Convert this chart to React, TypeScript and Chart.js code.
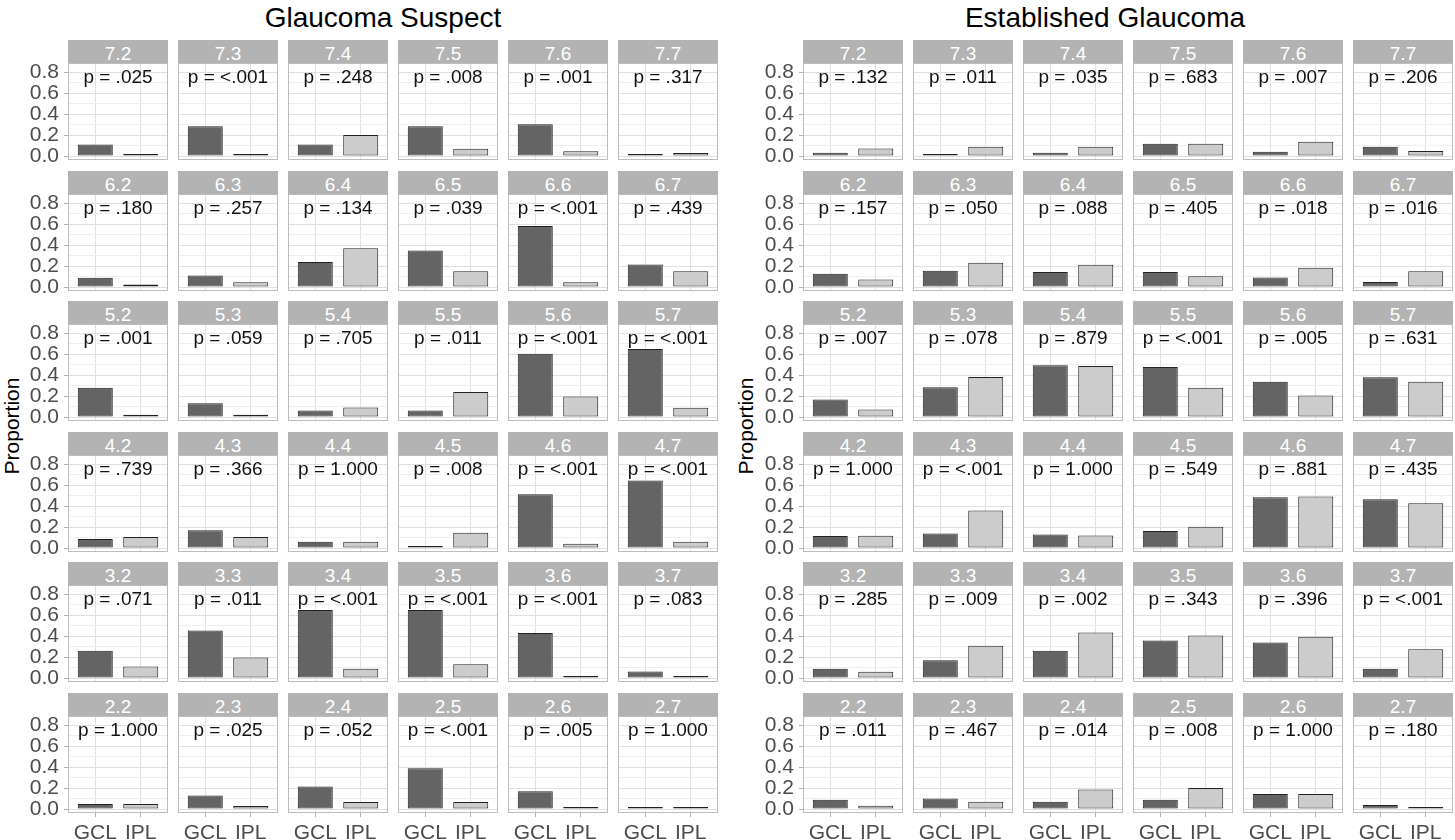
import React, { useEffect, useRef } from 'react';
import { Chart, registerables } from 'chart.js';

Chart.register(...registerables);

// ---------------- data ----------------
const PANEL_TITLES = ['Glaucoma Suspect', 'Established Glaucoma'];
const ROW_KEYS = ['7', '6', '5', '4', '3', '2'];
const COL_KEYS = ['2', '3', '4', '5', '6', '7'];
const CATEGORIES = ['GCL', 'IPL'];
const Y_TICKS = [0, 0.1, 0.2, 0.3, 0.4, 0.5, 0.6, 0.7, 0.8];
const Y_TITLE = 'Proportion';

// row-major: rows 7..2, columns .2 .. .7
const SUSPECT_GCL = [
  0.11, 0.285, 0.11, 0.285, 0.305, 0.005,
  0.089, 0.11, 0.24, 0.35, 0.585, 0.215,
  0.28, 0.133, 0.063, 0.063, 0.606, 0.65,
  0.086, 0.17, 0.06, 0.005, 0.514, 0.645,
  0.26, 0.454, 0.65, 0.65, 0.43, 0.063,
  0.048, 0.13, 0.216, 0.39, 0.17, 0.005,
];
const SUSPECT_IPL = [
  0.005, 0.005, 0.2, 0.07, 0.045, 0.03,
  0.025, 0.045, 0.37, 0.15, 0.045, 0.15,
  0.022, 0.022, 0.092, 0.24, 0.197, 0.089,
  0.105, 0.105, 0.06, 0.146, 0.04, 0.06,
  0.11, 0.197, 0.089, 0.133, 0.005, 0.005,
  0.048, 0.029, 0.067, 0.067, 0.004, 0.004,
];
const SUSPECT_P = [
  '.025', '<.001', '.248', '.008', '.001', '.317',
  '.180', '.257', '.134', '.039', '<.001', '.439',
  '.001', '.059', '.705', '.011', '<.001', '<.001',
  '.739', '.366', '1.000', '.008', '<.001', '<.001',
  '.071', '.011', '<.001', '<.001', '<.001', '.083',
  '1.000', '.025', '.052', '<.001', '.005', '1.000',
];

const ESTABLISHED_GCL = [
  0.032, 0.016, 0.032, 0.117, 0.041, 0.089,
  0.127, 0.155, 0.143, 0.143, 0.092, 0.048,
  0.168, 0.286, 0.495, 0.479, 0.337, 0.381,
  0.114, 0.14, 0.13, 0.162, 0.486, 0.467,
  0.089, 0.171, 0.26, 0.359, 0.34, 0.089,
  0.089, 0.1, 0.07, 0.089, 0.143, 0.038,
];
const ESTABLISHED_IPL = [
  0.073, 0.089, 0.089, 0.117, 0.137, 0.048,
  0.073, 0.232, 0.213, 0.102, 0.184, 0.152,
  0.073, 0.384, 0.489, 0.279, 0.206, 0.337,
  0.117, 0.359, 0.12, 0.203, 0.492, 0.429,
  0.06, 0.308, 0.435, 0.406, 0.394, 0.276,
  0.032, 0.07, 0.187, 0.2, 0.143, 0.013,
];
const ESTABLISHED_P = [
  '.132', '.011', '.035', '.683', '.007', '.206',
  '.157', '.050', '.088', '.405', '.018', '.016',
  '.007', '.078', '.879', '<.001', '.005', '.631',
  '1.000', '<.001', '1.000', '.549', '.881', '.435',
  '.285', '.009', '.002', '.343', '.396', '<.001',
  '.011', '.467', '.014', '.008', '1.000', '.180',
];

// ---------------- layout / style ----------------
const FONT = '"Liberation Sans", Arial, Helvetica, sans-serif';
const PANEL_X0 = [68, 803];
const TITLE_CX = [383, 1105];
const YTITLE_CX = [12, 746];
const COL_STEP = 110;
const FACET_W = 100;
const ROW_Y0 = 40;
const ROW_STEP = 130.5;
const STRIP_H = 23;
const PLOT_H = 97;
const Y_AXIS_W = 68;
const X_AXIS_H = 30;
const LABEL_OVERHANG = 10;
const Y_MIN = -0.038;
const Y_MAX = 0.89;
const X_MIN = 0.4;
const X_MAX = 2.6;
const P_TEXT_Y = 0.697;
const DARK = '#646464';
const LIGHT = '#cccccc';

const isMajor = (v: number) => Math.round(v * 10) % 2 === 0;

const facetDeco = {
  id: 'facetDeco',
  afterDatasetsDraw(chart: any, _args: any, opts: any) {
    const { ctx, chartArea: a, scales } = chart;
    ctx.save();
    ctx.font = `19px ${FONT}`;
    ctx.fillStyle = '#111111';
    ctx.textAlign = 'center';
    ctx.textBaseline = 'alphabetic';
    ctx.fillText(opts.text, (a.left + a.right) / 2, scales.y.getPixelForValue(P_TEXT_Y));
    ctx.strokeStyle = '#bdbdbd';
    ctx.lineWidth = 1;
    ctx.strokeRect(Math.round(a.left) + 0.5, Math.round(a.top) + 0.5, Math.round(a.width) - 1, Math.round(a.height) - 1);
    ctx.restore();
  },
};

type FacetProps = {
  x: number;
  y: number;
  showY: boolean;
  showX: boolean;
  gcl: number;
  ipl: number;
  p: string;
};

function Facet({ x, y, showY, showX, gcl, ipl, p }: FacetProps) {
  const ref = useRef<HTMLCanvasElement | null>(null);
  const yW = showY ? Y_AXIS_W : 0;
  const xH = showX ? X_AXIS_H : showY ? LABEL_OVERHANG : 0;
  const w = FACET_W + yW;
  const h = PLOT_H + xH;

  useEffect(() => {
    if (!ref.current) return;
    const chart = new Chart(ref.current, {
      type: 'bar',
      data: {
        datasets: [
          {
            data: [
              { x: 1, y: gcl },
              { x: 2, y: ipl },
            ],
            backgroundColor: [DARK, LIGHT],
            borderColor: '#222222',
            borderWidth: 1,
            borderSkipped: false,
            minBarLength: 2,
            barPercentage: 0.77,
            categoryPercentage: 1,
          } as any,
        ],
      },
      options: {
        animation: false,
        responsive: false,
        devicePixelRatio: 1,
        events: [],
        layout: { padding: 0 },
        plugins: {
          legend: { display: false },
          tooltip: { enabled: false },
          title: { display: false },
          facetDeco: { text: 'p = ' + p },
        } as any,
        scales: {
          x: {
            type: 'linear',
            min: X_MIN,
            max: X_MAX,
            offset: false,
            afterBuildTicks: (s: any) => {
              s.ticks = [1, 2].map((v) => ({ value: v }));
            },
            afterFit: (s: any) => {
              s.height = xH;
              s.paddingLeft = 0;
              s.paddingRight = 0;
            },
            ticks: {
              display: showX,
              autoSkip: false,
              maxRotation: 0,
              minRotation: 0,
              padding: 4,
              color: '#4d4d4d',
              font: { family: FONT, size: 21 },
              callback: (v: any) => CATEGORIES[Math.round(Number(v)) - 1],
            },
            grid: {
              offset: false,
              color: '#e0e0e0',
              lineWidth: 1,
              drawTicks: showX,
              tickLength: 4,
              tickColor: '#b3b3b3',
            },
            border: { display: false },
          },
          y: {
            type: 'linear',
            min: Y_MIN,
            max: Y_MAX,
            afterBuildTicks: (s: any) => {
              s.ticks = Y_TICKS.map((v) => ({ value: v }));
            },
            afterFit: (s: any) => {
              s.width = yW;
              s.paddingTop = 0;
              s.paddingBottom = 0;
            },
            ticks: {
              display: showY,
              autoSkip: false,
              padding: 5,
              color: '#4d4d4d',
              font: { family: FONT, size: 21 },
              callback: (v: any) => (isMajor(Number(v)) ? Number(v).toFixed(1) : ''),
            },
            grid: {
              color: (c: any) => (c.tick && !isMajor(c.tick.value) ? '#efefef' : '#e0e0e0'),
              lineWidth: 1,
              drawTicks: showY,
              tickLength: 4,
              tickColor: (c: any) => (c.tick && !isMajor(c.tick.value) ? 'rgba(0,0,0,0)' : '#b3b3b3'),
            },
            border: { display: false },
          },
        } as any,
      },
      plugins: [facetDeco as any],
    });
    return () => chart.destroy();
  }, [gcl, ipl, p, showX, showY, xH, yW]);

  return (
    <canvas
      ref={ref}
      width={w}
      height={h}
      style={{ position: 'absolute', left: x - yW, top: y, width: w, height: h }}
    />
  );
}

function Panel({ index, gclArr, iplArr, pArr }: { index: number; gclArr: number[]; iplArr: number[]; pArr: string[] }) {
  const items: React.ReactNode[] = [];
  ROW_KEYS.forEach((rk, r) => {
    const stripTop = Math.round(ROW_Y0 + ROW_STEP * r);
    COL_KEYS.forEach((ck, c) => {
      const i = r * COL_KEYS.length + c;
      const left = PANEL_X0[index] + COL_STEP * c;
      items.push(
        <div
          key={`s-${i}`}
          style={{
            position: 'absolute',
            left,
            top: stripTop,
            width: FACET_W,
            height: STRIP_H,
            background: '#b3b3b3',
            color: '#ffffff',
            fontSize: 19,
            lineHeight: '27px',
            textAlign: 'center',
            overflow: 'visible',
          }}
        >
          {`${rk}.${ck}`}
        </div>
      );
      items.push(
        <Facet
          key={`f-${i}`}
          x={left}
          y={stripTop + STRIP_H}
          showY={c === 0}
          showX={r === ROW_KEYS.length - 1}
          gcl={gclArr[i]}
          ipl={iplArr[i]}
          p={pArr[i]}
        />
      );
    });
  });
  return (
    <>
      <div
        style={{
          position: 'absolute',
          left: TITLE_CX[index] - 400,
          width: 800,
          top: 0,
          fontSize: 28,
          lineHeight: '36px',
          textAlign: 'center',
          color: '#000',
        }}
      >
        {PANEL_TITLES[index]}
      </div>
      <div
        style={{
          position: 'absolute',
          left: YTITLE_CX[index],
          top: 426,
          transform: 'translate(-50%, -50%) rotate(-90deg)',
          whiteSpace: 'nowrap',
          fontSize: 21,
          lineHeight: '24px',
          color: '#000',
        }}
      >
        {Y_TITLE}
      </div>
      {items}
    </>
  );
}

export default function App() {
  return (
    <div
      style={{
        position: 'fixed',
        left: 0,
        top: 0,
        width: 1455,
        height: 840,
        overflow: 'hidden',
        background: '#ffffff',
        fontFamily: FONT,
      }}
    >
      <Panel index={0} gclArr={SUSPECT_GCL} iplArr={SUSPECT_IPL} pArr={SUSPECT_P} />
      <Panel index={1} gclArr={ESTABLISHED_GCL} iplArr={ESTABLISHED_IPL} pArr={ESTABLISHED_P} />
    </div>
  );
}
